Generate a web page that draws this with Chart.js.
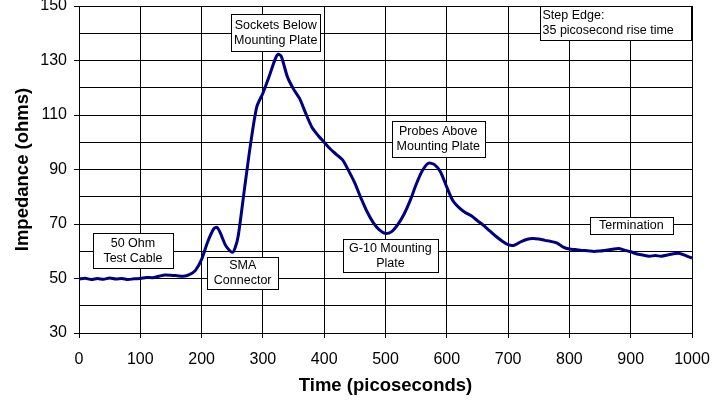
<!DOCTYPE html>
<html>
<head>
<meta charset="utf-8">
<script src="https://cdn.jsdelivr.net/npm/chart.js@4.4.1/dist/chart.umd.min.js"></script>
<style>
  html, body { margin: 0; padding: 0; background: #fff; }
  #wrap { width: 726px; height: 404px; }
</style>
</head>
<body>
<div id="wrap"><canvas id="tdrChart" width="726" height="404"></canvas></div>
<script>
// TDR trace
const timePs = [
  0, 10, 20, 30, 40, 50, 60, 70, 80, 90,
  100, 110, 120, 130, 140, 150, 160, 170, 180, 190,
  200, 210, 220, 225, 230, 240, 250, 255, 260, 270,
  280, 290, 300, 310, 320, 325, 330, 340, 350, 360,
  370, 380, 390, 400, 410, 420, 430, 440, 450, 460,
  470, 480, 490, 500, 510, 520, 530, 540, 550, 560,
  570, 580, 590, 600, 610, 620, 630, 640, 650, 660,
  670, 680, 690, 700, 710, 720, 730, 740, 750, 760,
  770, 780, 790, 800, 810, 820, 830, 840, 850, 860,
  870, 880, 890, 900, 910, 920, 930, 940, 950, 960,
  970, 980, 990, 1000
];
const impedance = [
  49.8, 50.1, 49.6, 50.0, 49.7, 50.2, 49.8, 50.0, 49.6, 49.9,
  50.0, 50.4, 50.3, 50.8, 51.3, 51.2, 51.0, 50.8, 51.4, 53.0,
  57.0, 63.5, 68.3, 68.8, 67.0, 61.8, 59.6, 61.5, 66.0, 83.0,
  99.5, 113.0, 118.0, 124.0, 130.5, 132.3, 131.5, 124.0, 119.5, 116.0,
  110.5, 105.5, 102.5, 100.0, 97.5, 95.5, 93.5, 89.5, 85.0, 79.5,
  74.5, 70.5, 67.8, 66.5, 67.2, 69.8, 73.5, 78.5, 84.5, 89.5,
  92.3, 91.8, 89.0, 83.5, 78.5, 76.0, 74.2, 73.0, 71.2, 69.5,
  67.5, 65.5, 63.8, 62.4, 62.2, 63.4, 64.3, 64.7, 64.5, 64.0,
  63.6, 63.0, 61.5, 60.8, 60.6, 60.3, 60.2, 59.9, 60.1, 60.4,
  60.7, 61.0, 60.4, 59.8, 59.0, 58.6, 58.2, 58.4, 58.2, 58.6,
  59.1, 59.2, 58.4, 57.5
];
const xTickLabels = [0, 100, 200, 300, 400, 500, 600, 700, 800, 900, 1000];
const yTickLabels = [30, 50, 70, 90, 110, 130, 150];

// callout boxes (centre in data units, box size in px)
const notes = [
  { x: 321, y: 140.1, w: 89, h: 37, lines: ['Sockets Below', 'Mounting Plate'] },
  { x: 586, y: 101.1, w: 93, h: 36, lines: ['Probes Above', 'Mounting Plate'] },
  { x: 876, y: 143.6, w: 151, h: 34, lines: ['Step Edge:', '35 picosecond rise time'], align: 'left' },
  { x: 88, y: 60.2, w: 80, h: 35, lines: ['50 Ohm', 'Test Cable'] },
  { x: 267, y: 52.0, w: 71, h: 32, lines: ['SMA', 'Connector'] },
  { x: 508, y: 58.3, w: 95, h: 33, lines: ['G-10 Mounting', 'Plate'] },
  { x: 901, y: 69.3, w: 83, h: 17, lines: ['Termination'] }
];

const FONT = '"Liberation Sans", Arial, sans-serif';

const notePlugin = {
  id: 'notes',
  afterDatasetsDraw(chart) {
    const { ctx, scales: { x, y } } = chart;
    ctx.save();
    ctx.font = '12.5px ' + FONT;
    ctx.textBaseline = 'middle';
    notes.forEach(n => {
      const cx = x.getPixelForValue(n.x);
      const cy = y.getPixelForValue(n.y);
      const left = Math.round(cx - n.w / 2) + 0.5;
      const top = Math.round(cy - n.h / 2) + 0.5;
      ctx.fillStyle = '#fff';
      ctx.fillRect(left, top, n.w, n.h);
      ctx.strokeStyle = '#000';
      ctx.lineWidth = 1;
      ctx.strokeRect(left, top, n.w, n.h);
      ctx.fillStyle = '#000';
      ctx.textAlign = n.align === 'left' ? 'left' : 'center';
      const tx = n.align === 'left' ? left + 2 : cx;
      n.lines.forEach((t, i) => {
        ctx.fillText(t, tx, cy + (i - (n.lines.length - 1) / 2) * 15);
      });
    });
    ctx.restore();
  }
};

new Chart(document.getElementById('tdrChart'), {
  type: 'line',
  data: {
    datasets: [{
      data: timePs.map((t, i) => ({ x: t, y: impedance[i] })),
      borderColor: '#000080',
      borderWidth: 3,
      pointRadius: 0,
      tension: 0.25,
      fill: false
    }]
  },
  options: {
    responsive: false,
    animation: false,
    layout: { padding: { top: 6, right: 34, left: 0, bottom: 0 } },
    plugins: { legend: { display: false }, tooltip: { enabled: false } },
    scales: {
      x: {
        type: 'linear',
        min: 0, max: 1000,
        afterFit: s => { s.height = 71; s.paddingLeft = 0; s.paddingRight = 0; },
        ticks: {
          stepSize: 100, autoSkip: false, maxRotation: 0, padding: 12,
          color: '#000', font: { family: FONT, size: 16 },
          callback: v => xTickLabels.includes(v) ? String(v) : ''
        },
        grid: { color: '#000', lineWidth: 1, tickLength: 5, tickColor: '#000' },
        border: { color: '#000', width: 1 },
        title: {
          display: true, text: 'Time (picoseconds)', color: '#000',
          font: { family: FONT, size: 18.5, weight: 'bold' },
          padding: { top: 0, bottom: 7 }
        }
      },
      y: {
        min: 30, max: 150,
        afterFit: s => { s.width = 79; s.paddingTop = 0; s.paddingBottom = 0; },
        ticks: {
          stepSize: 10, autoSkip: false, padding: 7,
          color: '#000', font: { family: FONT, size: 16 },
          callback: v => yTickLabels.includes(v) ? String(v) : ''
        },
        grid: {
          color: '#000', lineWidth: 1, tickLength: 5,
          tickColor: c => (c.tick && yTickLabels.includes(c.tick.value)) ? '#000' : 'rgba(0,0,0,0)'
        },
        border: { color: '#000', width: 1 },
        title: {
          display: true, text: 'Impedance (ohms)', color: '#000',
          font: { family: FONT, size: 18.5, weight: 'bold' },
          padding: { top: 12, bottom: 0 }
        }
      }
    }
  },
  plugins: [notePlugin]
});
</script>
</body>
</html>
